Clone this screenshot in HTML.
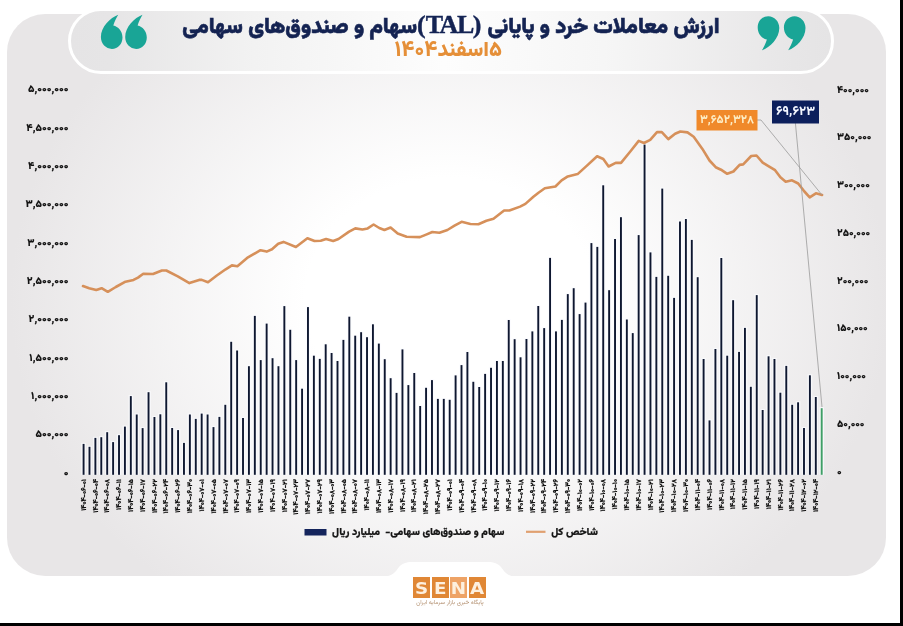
<!DOCTYPE html>
<html lang="fa"><head><meta charset="utf-8">
<style>
html,body{margin:0;padding:0;}
body{width:903px;height:626px;overflow:hidden;background:#fff;position:relative;font-family:"Vazirmatn","DejaVu Sans",sans-serif;}
.abs{position:absolute;}
#card{left:7px;top:14px;width:879px;height:562px;border-radius:38px;
background:radial-gradient(440px 370px at 443px 286px, #ffffff 0%, #ffffff 33%, #e8e6e7 100%);}
#pill{left:67.5px;top:7.5px;width:760px;height:60.5px;border:3px solid #fff;border-radius:34px;
background:linear-gradient(90deg,#e5e4e5 0%,#e6e5e6 5%,#f2f2f2 24%,#fdfdfd 49%,#f6f6f6 70%,#e7e6e7 95%,#e5e4e5 100%);}
#title{right:183.5px;top:10px;direction:rtl;text-align:right;transform-origin:100% 50%;white-space:nowrap;font-weight:900;font-size:21.6px;color:#142352;line-height:30px;-webkit-text-stroke:0.6px #142352;}
#title .lat{font-family:"Liberation Serif",serif;font-weight:700;font-size:26px;letter-spacing:-1.5px;margin-right:6px;position:relative;top:-0.5px;-webkit-text-stroke:0.4px #13245a;}
#sub{right:401px;top:38px;direction:rtl;text-align:right;transform-origin:100% 50%;white-space:nowrap;font-weight:900;font-size:21px;color:#e58f38;line-height:26px;}
#bk-r{left:900px;top:0;width:3px;height:626px;background:#000;}
#bk-b{left:0;top:623px;width:903px;height:3px;background:#000;}
svg text{font-family:"Vazirmatn","DejaVu Sans",sans-serif;}
.yl text{font-size:10.5px;font-weight:900;fill:#111;stroke:#111;stroke-width:0.1px;}
.xl text{font-size:6.8px;font-weight:900;fill:#111;stroke:#111;stroke-width:0.2px;text-anchor:end;}
#leg{left:0;top:0;}
.lg{position:absolute;direction:rtl;transform-origin:100% 50%;white-space:nowrap;font-weight:900;font-size:10.5px;color:#151515;line-height:14px;-webkit-text-stroke:0.2px #151515;}
#sena{left:413px;top:577px;width:74px;height:21px;}
.sb{position:absolute;top:0;width:17px;height:20.5px;background:#e08735;color:#fdf0df;font-family:"DejaVu Sans",sans-serif;font-weight:700;font-size:15.5px;line-height:24px;text-align:center;}
.sb span{display:inline-block;transform:scaleX(1.18);}
#senasub{left:405px;top:598px;width:90px;text-align:center;font-size:6px;color:#b39070;direction:rtl;white-space:nowrap;line-height:9px;}
</style></head>
<body>
<div id="card" class="abs"></div>
<svg class="abs" style="left:0;top:0" width="903" height="626"><path d="M384,576.5 C393,576.5 396,571 399,567 C402,563.5 406,562 412,562 L488,562 C494,562 498,563.5 501,567 C504,571 507,576.5 516,576.5 Z" fill="#fff"/></svg>
<div id="pill" class="abs"></div>
<svg class="abs" style="left:0;top:0" width="903" height="626" viewBox="0 0 903 626">
<g fill="#19a596">
<path transform="translate(111.7,37.3)" d="M6.5,-22.5 C-1.5,-19.5 -10.8,-10.5 -10.8,-0.2 C-10.8,6.5 -5.8,11.6 0.2,11.6 C6.3,11.6 10.8,6.6 10.8,0.2 C10.8,-6.2 6.5,-10.8 1.6,-11.8 C2.9,-15.8 4.6,-19.5 6.5,-22.5 Z"/>
<path transform="translate(136,37.3)" d="M6.5,-22.5 C-1.5,-19.5 -10.8,-10.5 -10.8,-0.2 C-10.8,6.5 -5.8,11.6 0.2,11.6 C6.3,11.6 10.8,6.6 10.8,0.2 C10.8,-6.2 6.5,-10.8 1.6,-11.8 C2.9,-15.8 4.6,-19.5 6.5,-22.5 Z"/>
<path transform="translate(768.5,27.8) rotate(180)" d="M6.5,-22.5 C-1.5,-19.5 -10.8,-10.5 -10.8,-0.2 C-10.8,6.5 -5.8,11.6 0.2,11.6 C6.3,11.6 10.8,6.6 10.8,0.2 C10.8,-6.2 6.5,-10.8 1.6,-11.8 C2.9,-15.8 4.6,-19.5 6.5,-22.5 Z"/>
<path transform="translate(794.7,27.8) rotate(180)" d="M6.5,-22.5 C-1.5,-19.5 -10.8,-10.5 -10.8,-0.2 C-10.8,6.5 -5.8,11.6 0.2,11.6 C6.3,11.6 10.8,6.6 10.8,0.2 C10.8,-6.2 6.5,-10.8 1.6,-11.8 C2.9,-15.8 4.6,-19.5 6.5,-22.5 Z"/>
</g>
<g class="yl" text-anchor="end" direction="ltr"><text x="68.5" y="475.7" textLength="4.75" lengthAdjust="spacingAndGlyphs">۰</text>
<text x="68.5" y="437.4" textLength="33.03" lengthAdjust="spacingAndGlyphs">۵۰۰,۰۰۰</text>
<text x="68.5" y="399.0" textLength="37.42" lengthAdjust="spacingAndGlyphs">۱,۰۰۰,۰۰۰</text>
<text x="68.5" y="360.7" textLength="39.19" lengthAdjust="spacingAndGlyphs">۱,۵۰۰,۰۰۰</text>
<text x="68.5" y="322.4" textLength="39.89" lengthAdjust="spacingAndGlyphs">۲,۰۰۰,۰۰۰</text>
<text x="68.5" y="284.1" textLength="41.66" lengthAdjust="spacingAndGlyphs">۲,۵۰۰,۰۰۰</text>
<text x="68.5" y="245.7" textLength="41.31" lengthAdjust="spacingAndGlyphs">۳,۰۰۰,۰۰۰</text>
<text x="68.5" y="207.4" textLength="43.08" lengthAdjust="spacingAndGlyphs">۳,۵۰۰,۰۰۰</text>
<text x="68.5" y="169.1" textLength="40.39" lengthAdjust="spacingAndGlyphs">۴,۰۰۰,۰۰۰</text>
<text x="68.5" y="130.7" textLength="42.16" lengthAdjust="spacingAndGlyphs">۴,۵۰۰,۰۰۰</text>
<text x="68.5" y="92.4" textLength="40.59" lengthAdjust="spacingAndGlyphs">۵,۰۰۰,۰۰۰</text></g>
<g class="yl" text-anchor="start"><text x="837" y="474.6" style="font-size:10.2px" textLength="4.61" lengthAdjust="spacingAndGlyphs">۰</text>
<text x="837" y="426.9" style="font-size:10.2px" textLength="27.45" lengthAdjust="spacingAndGlyphs">۵۰,۰۰۰</text>
<text x="837" y="379.1" style="font-size:10.2px" textLength="28.97" lengthAdjust="spacingAndGlyphs">۱۰۰,۰۰۰</text>
<text x="837" y="331.4" style="font-size:10.2px" textLength="30.69" lengthAdjust="spacingAndGlyphs">۱۵۰,۰۰۰</text>
<text x="837" y="283.6" style="font-size:10.2px" textLength="31.36" lengthAdjust="spacingAndGlyphs">۲۰۰,۰۰۰</text>
<text x="837" y="235.9" style="font-size:10.2px" textLength="33.08" lengthAdjust="spacingAndGlyphs">۲۵۰,۰۰۰</text>
<text x="837" y="188.1" style="font-size:10.2px" textLength="32.75" lengthAdjust="spacingAndGlyphs">۳۰۰,۰۰۰</text>
<text x="837" y="140.4" style="font-size:10.2px" textLength="34.45" lengthAdjust="spacingAndGlyphs">۳۵۰,۰۰۰</text>
<text x="837" y="92.6" style="font-size:10.2px" textLength="31.86" lengthAdjust="spacingAndGlyphs">۴۰۰,۰۰۰</text></g>
<g><g fill="#fbfcff" opacity="0.75"><rect x="81.28" y="442.9" width="4.6" height="31.9"/><rect x="87.19" y="445.8" width="4.6" height="29.0"/><rect x="93.09" y="436.9" width="4.6" height="37.9"/><rect x="99.00" y="436.2" width="4.6" height="38.6"/><rect x="104.90" y="431.2" width="4.6" height="43.6"/><rect x="110.81" y="441.1" width="4.6" height="33.7"/><rect x="116.71" y="434.2" width="4.6" height="40.6"/><rect x="122.61" y="425.6" width="4.6" height="49.2"/><rect x="128.52" y="395.1" width="4.6" height="79.7"/><rect x="134.42" y="413.5" width="4.6" height="61.3"/><rect x="140.33" y="427.1" width="4.6" height="47.7"/><rect x="146.23" y="391.2" width="4.6" height="83.6"/><rect x="152.14" y="416.0" width="4.6" height="58.8"/><rect x="158.04" y="413.3" width="4.6" height="61.5"/><rect x="163.95" y="381.3" width="4.6" height="93.5"/><rect x="169.85" y="427.0" width="4.6" height="47.8"/><rect x="175.76" y="429.1" width="4.6" height="45.7"/><rect x="181.66" y="441.9" width="4.6" height="32.9"/><rect x="187.57" y="413.5" width="4.6" height="61.3"/><rect x="193.47" y="417.9" width="4.6" height="56.9"/><rect x="199.38" y="412.6" width="4.6" height="62.2"/><rect x="205.28" y="413.5" width="4.6" height="61.3"/><rect x="211.19" y="426.1" width="4.6" height="48.7"/><rect x="217.09" y="415.9" width="4.6" height="58.9"/><rect x="223.00" y="403.8" width="4.6" height="71.0"/><rect x="228.90" y="340.8" width="4.6" height="134.0"/><rect x="234.81" y="349.5" width="4.6" height="125.3"/><rect x="240.71" y="417.0" width="4.6" height="57.8"/><rect x="246.62" y="365.2" width="4.6" height="109.6"/><rect x="252.52" y="314.9" width="4.6" height="159.9"/><rect x="258.43" y="359.1" width="4.6" height="115.7"/><rect x="264.33" y="322.6" width="4.6" height="152.2"/><rect x="270.24" y="357.2" width="4.6" height="117.6"/><rect x="276.14" y="365.2" width="4.6" height="109.6"/><rect x="282.05" y="305.1" width="4.6" height="169.7"/><rect x="287.95" y="328.8" width="4.6" height="146.0"/><rect x="293.86" y="359.1" width="4.6" height="115.7"/><rect x="299.76" y="387.7" width="4.6" height="87.1"/><rect x="305.67" y="306.1" width="4.6" height="168.7"/><rect x="311.57" y="354.7" width="4.6" height="120.1"/><rect x="317.48" y="357.9" width="4.6" height="116.9"/><rect x="323.38" y="343.3" width="4.6" height="131.5"/><rect x="329.29" y="352.0" width="4.6" height="122.8"/><rect x="335.19" y="360.0" width="4.6" height="114.8"/><rect x="341.10" y="338.9" width="4.6" height="135.9"/><rect x="347.00" y="315.7" width="4.6" height="159.1"/><rect x="352.91" y="334.7" width="4.6" height="140.1"/><rect x="358.81" y="331.2" width="4.6" height="143.6"/><rect x="364.72" y="336.2" width="4.6" height="138.6"/><rect x="370.62" y="323.3" width="4.6" height="151.5"/><rect x="376.53" y="342.6" width="4.6" height="132.2"/><rect x="382.44" y="358.2" width="4.6" height="116.6"/><rect x="388.34" y="377.2" width="4.6" height="97.6"/><rect x="394.25" y="391.9" width="4.6" height="82.9"/><rect x="400.15" y="348.4" width="4.6" height="126.4"/><rect x="406.06" y="384.1" width="4.6" height="90.7"/><rect x="411.96" y="372.0" width="4.6" height="102.8"/><rect x="417.87" y="405.0" width="4.6" height="69.8"/><rect x="423.77" y="386.8" width="4.6" height="88.0"/><rect x="429.68" y="379.1" width="4.6" height="95.7"/><rect x="435.58" y="397.9" width="4.6" height="76.9"/><rect x="441.49" y="397.9" width="4.6" height="76.9"/><rect x="447.39" y="398.8" width="4.6" height="76.0"/><rect x="453.30" y="374.4" width="4.6" height="100.4"/><rect x="459.20" y="364.1" width="4.6" height="110.7"/><rect x="465.10" y="351.0" width="4.6" height="123.8"/><rect x="471.01" y="380.8" width="4.6" height="94.0"/><rect x="476.91" y="386.0" width="4.6" height="88.8"/><rect x="482.82" y="372.9" width="4.6" height="101.9"/><rect x="488.72" y="366.8" width="4.6" height="108.0"/><rect x="494.63" y="360.0" width="4.6" height="114.8"/><rect x="500.53" y="360.0" width="4.6" height="114.8"/><rect x="506.44" y="319.0" width="4.6" height="155.8"/><rect x="512.35" y="338.2" width="4.6" height="136.6"/><rect x="518.25" y="356.3" width="4.6" height="118.5"/><rect x="524.16" y="338.0" width="4.6" height="136.8"/><rect x="530.06" y="330.4" width="4.6" height="144.4"/><rect x="535.97" y="305.0" width="4.6" height="169.8"/><rect x="541.87" y="327.1" width="4.6" height="147.7"/><rect x="547.78" y="256.9" width="4.6" height="217.9"/><rect x="553.68" y="330.4" width="4.6" height="144.4"/><rect x="559.59" y="318.9" width="4.6" height="155.9"/><rect x="565.49" y="293.1" width="4.6" height="181.7"/><rect x="571.40" y="287.2" width="4.6" height="187.6"/><rect x="577.30" y="313.1" width="4.6" height="161.7"/><rect x="583.21" y="301.6" width="4.6" height="173.2"/><rect x="589.11" y="242.1" width="4.6" height="232.7"/><rect x="595.02" y="245.9" width="4.6" height="228.9"/><rect x="600.92" y="184.3" width="4.6" height="290.5"/><rect x="606.83" y="289.2" width="4.6" height="185.6"/><rect x="612.73" y="238.0" width="4.6" height="236.8"/><rect x="618.64" y="216.2" width="4.6" height="258.6"/><rect x="624.54" y="318.5" width="4.6" height="156.3"/><rect x="630.45" y="332.1" width="4.6" height="142.7"/><rect x="636.35" y="234.1" width="4.6" height="240.7"/><rect x="642.26" y="143.6" width="4.6" height="331.2"/><rect x="648.16" y="251.4" width="4.6" height="223.4"/><rect x="654.07" y="275.9" width="4.6" height="198.9"/><rect x="659.97" y="187.6" width="4.6" height="287.2"/><rect x="665.88" y="274.8" width="4.6" height="200.0"/><rect x="671.78" y="296.9" width="4.6" height="177.9"/><rect x="677.69" y="220.5" width="4.6" height="254.3"/><rect x="683.59" y="218.0" width="4.6" height="256.8"/><rect x="689.50" y="238.9" width="4.6" height="235.9"/><rect x="695.40" y="276.2" width="4.6" height="198.6"/><rect x="701.31" y="358.0" width="4.6" height="116.8"/><rect x="707.21" y="419.4" width="4.6" height="55.4"/><rect x="713.12" y="348.0" width="4.6" height="126.8"/><rect x="719.02" y="257.0" width="4.6" height="217.8"/><rect x="724.93" y="354.7" width="4.6" height="120.1"/><rect x="730.83" y="299.2" width="4.6" height="175.6"/><rect x="736.74" y="350.9" width="4.6" height="123.9"/><rect x="742.64" y="326.9" width="4.6" height="147.9"/><rect x="748.55" y="385.8" width="4.6" height="89.0"/><rect x="754.45" y="294.1" width="4.6" height="180.7"/><rect x="760.36" y="409.0" width="4.6" height="65.8"/><rect x="766.26" y="355.3" width="4.6" height="119.5"/><rect x="772.17" y="358.0" width="4.6" height="116.8"/><rect x="778.07" y="391.7" width="4.6" height="83.1"/><rect x="783.98" y="364.9" width="4.6" height="109.9"/><rect x="789.88" y="403.8" width="4.6" height="71.0"/><rect x="795.79" y="401.3" width="4.6" height="73.5"/><rect x="801.69" y="427.0" width="4.6" height="47.8"/><rect x="807.60" y="374.3" width="4.6" height="100.5"/><rect x="813.50" y="396.0" width="4.6" height="78.8"/><rect x="819.41" y="407.2" width="4.6" height="67.6"/></g>
<rect x="82.63" y="443.9" width="1.9" height="30.9" fill="#0e1730"/>
<rect x="88.53" y="446.8" width="1.9" height="28.0" fill="#0e1730"/>
<rect x="94.44" y="437.9" width="1.9" height="36.9" fill="#0e1730"/>
<rect x="100.34" y="437.2" width="1.9" height="37.6" fill="#0e1730"/>
<rect x="106.25" y="432.2" width="1.9" height="42.6" fill="#0e1730"/>
<rect x="112.16" y="442.1" width="1.9" height="32.7" fill="#0e1730"/>
<rect x="118.06" y="435.2" width="1.9" height="39.6" fill="#0e1730"/>
<rect x="123.96" y="426.6" width="1.9" height="48.2" fill="#0e1730"/>
<rect x="129.87" y="396.1" width="1.9" height="78.7" fill="#0e1730"/>
<rect x="135.78" y="414.5" width="1.9" height="60.3" fill="#0e1730"/>
<rect x="141.68" y="428.1" width="1.9" height="46.7" fill="#0e1730"/>
<rect x="147.59" y="392.2" width="1.9" height="82.6" fill="#0e1730"/>
<rect x="153.49" y="417.0" width="1.9" height="57.8" fill="#0e1730"/>
<rect x="159.40" y="414.3" width="1.9" height="60.5" fill="#0e1730"/>
<rect x="165.30" y="382.3" width="1.9" height="92.5" fill="#0e1730"/>
<rect x="171.21" y="428.0" width="1.9" height="46.8" fill="#0e1730"/>
<rect x="177.11" y="430.1" width="1.9" height="44.7" fill="#0e1730"/>
<rect x="183.02" y="442.9" width="1.9" height="31.9" fill="#0e1730"/>
<rect x="188.92" y="414.5" width="1.9" height="60.3" fill="#0e1730"/>
<rect x="194.83" y="418.9" width="1.9" height="55.9" fill="#0e1730"/>
<rect x="200.73" y="413.6" width="1.9" height="61.2" fill="#0e1730"/>
<rect x="206.64" y="414.5" width="1.9" height="60.3" fill="#0e1730"/>
<rect x="212.54" y="427.1" width="1.9" height="47.7" fill="#0e1730"/>
<rect x="218.44" y="416.9" width="1.9" height="57.9" fill="#0e1730"/>
<rect x="224.35" y="404.8" width="1.9" height="70.0" fill="#0e1730"/>
<rect x="230.25" y="341.8" width="1.9" height="133.0" fill="#0e1730"/>
<rect x="236.16" y="350.5" width="1.9" height="124.3" fill="#0e1730"/>
<rect x="242.06" y="418.0" width="1.9" height="56.8" fill="#0e1730"/>
<rect x="247.97" y="366.2" width="1.9" height="108.6" fill="#0e1730"/>
<rect x="253.88" y="315.9" width="1.9" height="158.9" fill="#0e1730"/>
<rect x="259.78" y="360.1" width="1.9" height="114.7" fill="#0e1730"/>
<rect x="265.69" y="323.6" width="1.9" height="151.2" fill="#0e1730"/>
<rect x="271.59" y="358.2" width="1.9" height="116.6" fill="#0e1730"/>
<rect x="277.50" y="366.2" width="1.9" height="108.6" fill="#0e1730"/>
<rect x="283.40" y="306.1" width="1.9" height="168.7" fill="#0e1730"/>
<rect x="289.31" y="329.8" width="1.9" height="145.0" fill="#0e1730"/>
<rect x="295.21" y="360.1" width="1.9" height="114.7" fill="#0e1730"/>
<rect x="301.12" y="388.7" width="1.9" height="86.1" fill="#0e1730"/>
<rect x="307.02" y="307.1" width="1.9" height="167.7" fill="#0e1730"/>
<rect x="312.93" y="355.7" width="1.9" height="119.1" fill="#0e1730"/>
<rect x="318.83" y="358.9" width="1.9" height="115.9" fill="#0e1730"/>
<rect x="324.74" y="344.3" width="1.9" height="130.5" fill="#0e1730"/>
<rect x="330.64" y="353.0" width="1.9" height="121.8" fill="#0e1730"/>
<rect x="336.55" y="361.0" width="1.9" height="113.8" fill="#0e1730"/>
<rect x="342.45" y="339.9" width="1.9" height="134.9" fill="#0e1730"/>
<rect x="348.36" y="316.7" width="1.9" height="158.1" fill="#0e1730"/>
<rect x="354.26" y="335.7" width="1.9" height="139.1" fill="#0e1730"/>
<rect x="360.17" y="332.2" width="1.9" height="142.6" fill="#0e1730"/>
<rect x="366.07" y="337.2" width="1.9" height="137.6" fill="#0e1730"/>
<rect x="371.98" y="324.3" width="1.9" height="150.5" fill="#0e1730"/>
<rect x="377.88" y="343.6" width="1.9" height="131.2" fill="#0e1730"/>
<rect x="383.79" y="359.2" width="1.9" height="115.6" fill="#0e1730"/>
<rect x="389.69" y="378.2" width="1.9" height="96.6" fill="#0e1730"/>
<rect x="395.60" y="392.9" width="1.9" height="81.9" fill="#0e1730"/>
<rect x="401.50" y="349.4" width="1.9" height="125.4" fill="#0e1730"/>
<rect x="407.41" y="385.1" width="1.9" height="89.7" fill="#0e1730"/>
<rect x="413.31" y="373.0" width="1.9" height="101.8" fill="#0e1730"/>
<rect x="419.22" y="406.0" width="1.9" height="68.8" fill="#0e1730"/>
<rect x="425.12" y="387.8" width="1.9" height="87.0" fill="#0e1730"/>
<rect x="431.03" y="380.1" width="1.9" height="94.7" fill="#0e1730"/>
<rect x="436.93" y="398.9" width="1.9" height="75.9" fill="#0e1730"/>
<rect x="442.84" y="398.9" width="1.9" height="75.9" fill="#0e1730"/>
<rect x="448.74" y="399.8" width="1.9" height="75.0" fill="#0e1730"/>
<rect x="454.65" y="375.4" width="1.9" height="99.4" fill="#0e1730"/>
<rect x="460.55" y="365.1" width="1.9" height="109.7" fill="#0e1730"/>
<rect x="466.45" y="352.0" width="1.9" height="122.8" fill="#0e1730"/>
<rect x="472.36" y="381.8" width="1.9" height="93.0" fill="#0e1730"/>
<rect x="478.26" y="387.0" width="1.9" height="87.8" fill="#0e1730"/>
<rect x="484.17" y="373.9" width="1.9" height="100.9" fill="#0e1730"/>
<rect x="490.07" y="367.8" width="1.9" height="107.0" fill="#0e1730"/>
<rect x="495.98" y="361.0" width="1.9" height="113.8" fill="#0e1730"/>
<rect x="501.88" y="361.0" width="1.9" height="113.8" fill="#0e1730"/>
<rect x="507.79" y="320.0" width="1.9" height="154.8" fill="#0e1730"/>
<rect x="513.69" y="339.2" width="1.9" height="135.6" fill="#0e1730"/>
<rect x="519.60" y="357.3" width="1.9" height="117.5" fill="#0e1730"/>
<rect x="525.50" y="339.0" width="1.9" height="135.8" fill="#0e1730"/>
<rect x="531.41" y="331.4" width="1.9" height="143.4" fill="#0e1730"/>
<rect x="537.31" y="306.0" width="1.9" height="168.8" fill="#0e1730"/>
<rect x="543.22" y="328.1" width="1.9" height="146.7" fill="#0e1730"/>
<rect x="549.12" y="257.9" width="1.9" height="216.9" fill="#0e1730"/>
<rect x="555.03" y="331.4" width="1.9" height="143.4" fill="#0e1730"/>
<rect x="560.93" y="319.9" width="1.9" height="154.9" fill="#0e1730"/>
<rect x="566.84" y="294.1" width="1.9" height="180.7" fill="#0e1730"/>
<rect x="572.75" y="288.2" width="1.9" height="186.6" fill="#0e1730"/>
<rect x="578.65" y="314.1" width="1.9" height="160.7" fill="#0e1730"/>
<rect x="584.55" y="302.6" width="1.9" height="172.2" fill="#0e1730"/>
<rect x="590.46" y="243.1" width="1.9" height="231.7" fill="#0e1730"/>
<rect x="596.37" y="246.9" width="1.9" height="227.9" fill="#0e1730"/>
<rect x="602.27" y="185.3" width="1.9" height="289.5" fill="#0e1730"/>
<rect x="608.18" y="290.2" width="1.9" height="184.6" fill="#0e1730"/>
<rect x="614.08" y="239.0" width="1.9" height="235.8" fill="#0e1730"/>
<rect x="619.99" y="217.2" width="1.9" height="257.6" fill="#0e1730"/>
<rect x="625.89" y="319.5" width="1.9" height="155.3" fill="#0e1730"/>
<rect x="631.80" y="333.1" width="1.9" height="141.7" fill="#0e1730"/>
<rect x="637.70" y="235.1" width="1.9" height="239.7" fill="#0e1730"/>
<rect x="643.61" y="144.6" width="1.9" height="330.2" fill="#0e1730"/>
<rect x="649.51" y="252.4" width="1.9" height="222.4" fill="#0e1730"/>
<rect x="655.41" y="276.9" width="1.9" height="197.9" fill="#0e1730"/>
<rect x="661.32" y="188.6" width="1.9" height="286.2" fill="#0e1730"/>
<rect x="667.23" y="275.8" width="1.9" height="199.0" fill="#0e1730"/>
<rect x="673.13" y="297.9" width="1.9" height="176.9" fill="#0e1730"/>
<rect x="679.03" y="221.5" width="1.9" height="253.3" fill="#0e1730"/>
<rect x="684.94" y="219.0" width="1.9" height="255.8" fill="#0e1730"/>
<rect x="690.85" y="239.9" width="1.9" height="234.9" fill="#0e1730"/>
<rect x="696.75" y="277.2" width="1.9" height="197.6" fill="#0e1730"/>
<rect x="702.65" y="359.0" width="1.9" height="115.8" fill="#0e1730"/>
<rect x="708.56" y="420.4" width="1.9" height="54.4" fill="#0e1730"/>
<rect x="714.47" y="349.0" width="1.9" height="125.8" fill="#0e1730"/>
<rect x="720.37" y="258.0" width="1.9" height="216.8" fill="#0e1730"/>
<rect x="726.27" y="355.7" width="1.9" height="119.1" fill="#0e1730"/>
<rect x="732.18" y="300.2" width="1.9" height="174.6" fill="#0e1730"/>
<rect x="738.09" y="351.9" width="1.9" height="122.9" fill="#0e1730"/>
<rect x="743.99" y="327.9" width="1.9" height="146.9" fill="#0e1730"/>
<rect x="749.89" y="386.8" width="1.9" height="88.0" fill="#0e1730"/>
<rect x="755.80" y="295.1" width="1.9" height="179.7" fill="#0e1730"/>
<rect x="761.71" y="410.0" width="1.9" height="64.8" fill="#0e1730"/>
<rect x="767.61" y="356.3" width="1.9" height="118.5" fill="#0e1730"/>
<rect x="773.51" y="359.0" width="1.9" height="115.8" fill="#0e1730"/>
<rect x="779.42" y="392.7" width="1.9" height="82.1" fill="#0e1730"/>
<rect x="785.33" y="365.9" width="1.9" height="108.9" fill="#0e1730"/>
<rect x="791.23" y="404.8" width="1.9" height="70.0" fill="#0e1730"/>
<rect x="797.13" y="402.3" width="1.9" height="72.5" fill="#0e1730"/>
<rect x="803.04" y="428.0" width="1.9" height="46.8" fill="#0e1730"/>
<rect x="808.95" y="375.3" width="1.9" height="99.5" fill="#0e1730"/>
<rect x="814.85" y="397.0" width="1.9" height="77.8" fill="#0e1730"/>
<rect x="820.75" y="408.2" width="1.9" height="66.6" fill="#3f9f66"/></g>
<path d="M83.0,286.1 L89.2,288.2 L96.3,290.0 L101.6,288.2 L107.8,291.8 L115.8,287.0 L125.5,281.7 L133.5,279.9 L138.0,277.6 L143.3,273.7 L153.0,274.0 L161.9,270.5 L166.3,270.5 L177.8,276.3 L189.4,283.1 L199.1,279.9 L201.8,279.9 L208.0,282.2 L216.8,275.5 L225.7,269.3 L231.9,265.4 L237.4,266.2 L248.0,257.3 L260.5,250.2 L266.7,251.6 L272.0,249.3 L278.2,243.7 L283.5,241.9 L295.9,247.0 L307.4,238.2 L314.5,241.0 L320.7,240.8 L326.1,239.0 L333.2,241.0 L338.5,239.0 L349.1,231.6 L355.3,228.4 L362.4,229.5 L367.7,228.4 L373.6,224.5 L379.3,228.0 L384.4,230.0 L390.6,227.5 L397.7,233.5 L406.6,236.7 L419.9,237.1 L426.1,234.6 L432.3,232.0 L439.4,232.8 L447.4,230.0 L454.5,225.7 L461.6,221.8 L470.4,224.0 L478.4,224.3 L486.4,220.8 L493.5,218.7 L504.1,210.5 L509.4,210.5 L520.1,206.6 L525.4,203.9 L533.4,196.8 L538.5,192.7 L544.8,188.3 L555.4,186.5 L561.6,180.3 L567.8,176.4 L577.6,174.1 L586.4,166.1 L597.1,156.3 L603.3,159.0 L608.6,166.5 L615.7,162.9 L621.0,162.9 L630.7,151.0 L638.7,140.9 L644.0,143.0 L650.2,139.9 L657.0,132.1 L661.8,132.1 L668.3,139.1 L675.1,133.8 L680.4,131.5 L687.5,132.4 L693.7,136.8 L702.4,148.9 L709.5,160.5 L715.7,167.2 L721.0,169.7 L727.2,173.8 L733.4,171.5 L739.6,164.9 L743.2,164.4 L751.2,156.0 L756.5,155.5 L762.7,162.6 L768.0,165.8 L775.1,170.2 L780.4,177.3 L785.7,181.7 L792.0,180.3 L798.2,183.5 L804.4,191.5 L809.7,197.3 L815.9,193.3 L822.1,195.0" fill="none" stroke="#d6905a" stroke-width="2.6" stroke-linejoin="round" stroke-linecap="round"/>
<g stroke="#9a9a9a" stroke-width="0.8" fill="none">
<polyline points="757,120 761,120 822,195"/>
<line x1="795.4" y1="123" x2="822" y2="407"/>
</g>
<rect x="696.5" y="110" width="61" height="20.5" fill="#f0892a"/>
<text x="727" y="123.2" text-anchor="middle" font-size="11.5" font-weight="800" fill="#fdecc4" textLength="54.25" lengthAdjust="spacingAndGlyphs">۳,۶۵۲,۳۲۸</text>
<rect x="772" y="100.5" width="47" height="23" fill="#0c1f5c"/>
<text x="795.5" y="115" text-anchor="middle" font-size="13" font-weight="800" fill="#f2f6ff" textLength="39.19" lengthAdjust="spacingAndGlyphs">۶۹,۶۲۳</text>
<g class="xl"><text transform="translate(85.78,479) rotate(-90)" textLength="31.81" lengthAdjust="spacingAndGlyphs">۱۴۰۴-۰۶-۰۱</text>
<text transform="translate(97.59,479) rotate(-90)" textLength="33.73" lengthAdjust="spacingAndGlyphs">۱۴۰۴-۰۶-۰۴</text>
<text transform="translate(109.40,479) rotate(-90)" textLength="33.84" lengthAdjust="spacingAndGlyphs">۱۴۰۴-۰۶-۰۸</text>
<text transform="translate(121.21,479) rotate(-90)" textLength="30.91" lengthAdjust="spacingAndGlyphs">۱۴۰۴-۰۶-۱۱</text>
<text transform="translate(133.02,479) rotate(-90)" textLength="32.95" lengthAdjust="spacingAndGlyphs">۱۴۰۴-۰۶-۱۵</text>
<text transform="translate(144.83,479) rotate(-90)" textLength="32.94" lengthAdjust="spacingAndGlyphs">۱۴۰۴-۰۶-۱۷</text>
<text transform="translate(156.64,479) rotate(-90)" textLength="34.09" lengthAdjust="spacingAndGlyphs">۱۴۰۴-۰۶-۲۲</text>
<text transform="translate(168.45,479) rotate(-90)" textLength="34.42" lengthAdjust="spacingAndGlyphs">۱۴۰۴-۰۶-۲۴</text>
<text transform="translate(180.26,479) rotate(-90)" textLength="33.84" lengthAdjust="spacingAndGlyphs">۱۴۰۴-۰۶-۲۶</text>
<text transform="translate(192.07,479) rotate(-90)" textLength="34.33" lengthAdjust="spacingAndGlyphs">۱۴۰۴-۰۶-۳۰</text>
<text transform="translate(203.88,479) rotate(-90)" textLength="32.50" lengthAdjust="spacingAndGlyphs">۱۴۰۴-۰۷-۰۱</text>
<text transform="translate(215.69,479) rotate(-90)" textLength="34.55" lengthAdjust="spacingAndGlyphs">۱۴۰۴-۰۷-۰۵</text>
<text transform="translate(227.50,479) rotate(-90)" textLength="34.55" lengthAdjust="spacingAndGlyphs">۱۴۰۴-۰۷-۰۷</text>
<text transform="translate(239.31,479) rotate(-90)" textLength="33.78" lengthAdjust="spacingAndGlyphs">۱۴۰۴-۰۷-۰۹</text>
<text transform="translate(251.12,479) rotate(-90)" textLength="34.11" lengthAdjust="spacingAndGlyphs">۱۴۰۴-۰۷-۱۳</text>
<text transform="translate(262.93,479) rotate(-90)" textLength="33.64" lengthAdjust="spacingAndGlyphs">۱۴۰۴-۰۷-۱۵</text>
<text transform="translate(274.74,479) rotate(-90)" textLength="32.88" lengthAdjust="spacingAndGlyphs">۱۴۰۴-۰۷-۱۹</text>
<text transform="translate(286.55,479) rotate(-90)" textLength="33.19" lengthAdjust="spacingAndGlyphs">۱۴۰۴-۰۷-۲۱</text>
<text transform="translate(298.36,479) rotate(-90)" textLength="35.70" lengthAdjust="spacingAndGlyphs">۱۴۰۴-۰۷-۲۳</text>
<text transform="translate(310.17,479) rotate(-90)" textLength="35.23" lengthAdjust="spacingAndGlyphs">۱۴۰۴-۰۷-۲۷</text>
<text transform="translate(321.98,479) rotate(-90)" textLength="34.47" lengthAdjust="spacingAndGlyphs">۱۴۰۴-۰۷-۲۹</text>
<text transform="translate(333.79,479) rotate(-90)" textLength="35.02" lengthAdjust="spacingAndGlyphs">۱۴۰۴-۰۸-۰۳</text>
<text transform="translate(345.60,479) rotate(-90)" textLength="34.55" lengthAdjust="spacingAndGlyphs">۱۴۰۴-۰۸-۰۵</text>
<text transform="translate(357.41,479) rotate(-90)" textLength="34.55" lengthAdjust="spacingAndGlyphs">۱۴۰۴-۰۸-۰۷</text>
<text transform="translate(369.22,479) rotate(-90)" textLength="31.59" lengthAdjust="spacingAndGlyphs">۱۴۰۴-۰۸-۱۱</text>
<text transform="translate(381.03,479) rotate(-90)" textLength="34.11" lengthAdjust="spacingAndGlyphs">۱۴۰۴-۰۸-۱۳</text>
<text transform="translate(392.84,479) rotate(-90)" textLength="33.64" lengthAdjust="spacingAndGlyphs">۱۴۰۴-۰۸-۱۷</text>
<text transform="translate(404.65,479) rotate(-90)" textLength="32.88" lengthAdjust="spacingAndGlyphs">۱۴۰۴-۰۸-۱۹</text>
<text transform="translate(416.46,479) rotate(-90)" textLength="33.19" lengthAdjust="spacingAndGlyphs">۱۴۰۴-۰۸-۲۱</text>
<text transform="translate(428.27,479) rotate(-90)" textLength="35.23" lengthAdjust="spacingAndGlyphs">۱۴۰۴-۰۸-۲۵</text>
<text transform="translate(440.08,479) rotate(-90)" textLength="35.23" lengthAdjust="spacingAndGlyphs">۱۴۰۴-۰۸-۲۷</text>
<text transform="translate(451.89,479) rotate(-90)" textLength="31.73" lengthAdjust="spacingAndGlyphs">۱۴۰۴-۰۹-۰۱</text>
<text transform="translate(463.70,479) rotate(-90)" textLength="33.66" lengthAdjust="spacingAndGlyphs">۱۴۰۴-۰۹-۰۴</text>
<text transform="translate(475.51,479) rotate(-90)" textLength="33.78" lengthAdjust="spacingAndGlyphs">۱۴۰۴-۰۹-۰۸</text>
<text transform="translate(487.32,479) rotate(-90)" textLength="31.73" lengthAdjust="spacingAndGlyphs">۱۴۰۴-۰۹-۱۰</text>
<text transform="translate(499.13,479) rotate(-90)" textLength="32.42" lengthAdjust="spacingAndGlyphs">۱۴۰۴-۰۹-۱۲</text>
<text transform="translate(510.94,479) rotate(-90)" textLength="32.19" lengthAdjust="spacingAndGlyphs">۱۴۰۴-۰۹-۱۶</text>
<text transform="translate(522.75,479) rotate(-90)" textLength="32.88" lengthAdjust="spacingAndGlyphs">۱۴۰۴-۰۹-۱۸</text>
<text transform="translate(534.56,479) rotate(-90)" textLength="34.03" lengthAdjust="spacingAndGlyphs">۱۴۰۴-۰۹-۲۲</text>
<text transform="translate(546.37,479) rotate(-90)" textLength="34.34" lengthAdjust="spacingAndGlyphs">۱۴۰۴-۰۹-۲۴</text>
<text transform="translate(558.18,479) rotate(-90)" textLength="33.78" lengthAdjust="spacingAndGlyphs">۱۴۰۴-۰۹-۲۶</text>
<text transform="translate(569.99,479) rotate(-90)" textLength="34.25" lengthAdjust="spacingAndGlyphs">۱۴۰۴-۰۹-۳۰</text>
<text transform="translate(581.80,479) rotate(-90)" textLength="32.05" lengthAdjust="spacingAndGlyphs">۱۴۰۴-۱۰-۰۲</text>
<text transform="translate(593.61,479) rotate(-90)" textLength="31.81" lengthAdjust="spacingAndGlyphs">۱۴۰۴-۱۰-۰۶</text>
<text transform="translate(605.42,479) rotate(-90)" textLength="32.50" lengthAdjust="spacingAndGlyphs">۱۴۰۴-۱۰-۰۸</text>
<text transform="translate(617.23,479) rotate(-90)" textLength="30.45" lengthAdjust="spacingAndGlyphs">۱۴۰۴-۱۰-۱۰</text>
<text transform="translate(629.04,479) rotate(-90)" textLength="31.59" lengthAdjust="spacingAndGlyphs">۱۴۰۴-۱۰-۱۵</text>
<text transform="translate(640.85,479) rotate(-90)" textLength="31.59" lengthAdjust="spacingAndGlyphs">۱۴۰۴-۱۰-۱۷</text>
<text transform="translate(652.66,479) rotate(-90)" textLength="31.14" lengthAdjust="spacingAndGlyphs">۱۴۰۴-۱۰-۲۱</text>
<text transform="translate(664.47,479) rotate(-90)" textLength="33.66" lengthAdjust="spacingAndGlyphs">۱۴۰۴-۱۰-۲۳</text>
<text transform="translate(676.28,479) rotate(-90)" textLength="33.19" lengthAdjust="spacingAndGlyphs">۱۴۰۴-۱۰-۲۸</text>
<text transform="translate(688.09,479) rotate(-90)" textLength="32.97" lengthAdjust="spacingAndGlyphs">۱۴۰۴-۱۰-۳۰</text>
<text transform="translate(699.90,479) rotate(-90)" textLength="31.47" lengthAdjust="spacingAndGlyphs">۱۴۰۴-۱۱-۰۴</text>
<text transform="translate(711.71,479) rotate(-90)" textLength="30.91" lengthAdjust="spacingAndGlyphs">۱۴۰۴-۱۱-۰۶</text>
<text transform="translate(723.52,479) rotate(-90)" textLength="31.59" lengthAdjust="spacingAndGlyphs">۱۴۰۴-۱۱-۰۸</text>
<text transform="translate(735.33,479) rotate(-90)" textLength="30.23" lengthAdjust="spacingAndGlyphs">۱۴۰۴-۱۱-۱۲</text>
<text transform="translate(747.14,479) rotate(-90)" textLength="30.69" lengthAdjust="spacingAndGlyphs">۱۴۰۴-۱۱-۱۵</text>
<text transform="translate(758.95,479) rotate(-90)" textLength="29.92" lengthAdjust="spacingAndGlyphs">۱۴۰۴-۱۱-۱۹</text>
<text transform="translate(770.76,479) rotate(-90)" textLength="30.23" lengthAdjust="spacingAndGlyphs">۱۴۰۴-۱۱-۲۱</text>
<text transform="translate(782.57,479) rotate(-90)" textLength="31.59" lengthAdjust="spacingAndGlyphs">۱۴۰۴-۱۱-۲۶</text>
<text transform="translate(794.38,479) rotate(-90)" textLength="32.28" lengthAdjust="spacingAndGlyphs">۱۴۰۴-۱۱-۲۸</text>
<text transform="translate(806.19,479) rotate(-90)" textLength="32.75" lengthAdjust="spacingAndGlyphs">۱۴۰۴-۱۲-۰۲</text>
<text transform="translate(818.00,479) rotate(-90)" textLength="33.06" lengthAdjust="spacingAndGlyphs">۱۴۰۴-۱۲-۰۴</text></g>
<rect x="304.5" y="529" width="22" height="6.5" fill="#14245c"/>
<line x1="526" y1="531.8" x2="545.5" y2="531.8" stroke="#e0a070" stroke-width="2.2"/>
</svg>
<div id="title" class="abs">ارزش معاملات خرد و پایانی<span class="lat">(TAL)</span>سهام و صندوق‌های سهامی</div>
<div id="sub" class="abs">۵اسفند<span style="font-size:22px;font-weight:800;letter-spacing:-0.6px;-webkit-text-stroke:0;position:relative;top:-0.5px">۱۴۰۴</span></div>
<div class="lg" style="right:398.5px;top:525.5px;">سهام و صندوق‌های سهامی-&nbsp;&nbsp;میلیارد ریال</div>
<div class="lg" style="right:305px;top:525.5px;">شاخص کل</div>
<div id="sena" class="abs">
<div class="sb" style="left:0"><span>S</span></div><div class="sb" style="left:18.5px"><span>E</span></div><div class="sb" style="left:37px;background:#eea366"><span>N</span></div><div class="sb" style="left:55.5px"><span>A</span></div>
</div>
<div id="senasub" class="abs">پایگاه خبری بازار سرمایه ایران</div>
<div id="bk-r" class="abs"></div>
<div id="bk-b" class="abs"></div>
<script>(function(){function fit(e,w){if(!e)return;var r=e.getBoundingClientRect().width;if(r>0&&Math.abs(r-w)>1){e.style.transform="scaleX("+(w/r).toFixed(4)+")";}}fit(document.getElementById("title"),537.36);fit(document.getElementById("sub"),107.52);var l=document.querySelectorAll(".lg");fit(l[0],172.45);fit(l[1],46.66);})();</script>
</body></html>
